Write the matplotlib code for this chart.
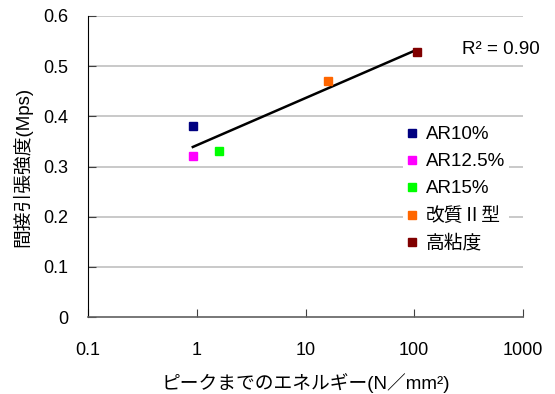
import matplotlib.pyplot as plt
import numpy as np

plt.rcParams["font.family"] = ["Liberation Sans", "Noto Sans CJK JP"]

# 試料ごとのピークまでのエネルギーと間接引張強度
labels = ["AR10%", "AR12.5%", "AR15%", "改質Ⅱ型", "高粘度"]
energy = [0.92, 0.92, 1.6, 16.0, 106.0]
strength = [0.38, 0.32, 0.33, 0.47, 0.528]
colors = ["#000080", "#ff00ff", "#00ff00", "#ff6600", "#800000"]

x_ticks = [0.1, 1, 10, 100, 1000]
x_tick_labels = ["0.1", "1", "10", "100", "1000"]
y_ticks = [0, 0.1, 0.2, 0.3, 0.4, 0.5, 0.6]
y_tick_labels = ["0", "0.1", "0.2", "0.3", "0.4", "0.5", "0.6"]

# 対数近似曲線
log_x = np.log10(energy)
slope, intercept = np.polyfit(log_x, strength, 1)
fit_y = slope * log_x + intercept
r2 = 1 - np.sum((np.array(strength) - fit_y) ** 2) / np.sum(
    (np.array(strength) - np.mean(strength)) ** 2
)
trend_x = np.logspace(np.log10(min(energy)), np.log10(max(energy)), 50)
trend_y = slope * np.log10(trend_x) + intercept

fig = plt.figure(figsize=(5.55, 3.94), dpi=100)
ax = fig.add_axes([88 / 555, 1 - 317 / 394, 435 / 555, 301 / 394])

ax.set_xscale("log")
ax.set_xlim(0.1, 1000)
ax.set_ylim(0, 0.6)

for y in y_ticks[1:]:
    ax.axhline(y, color="#c0c0c0", linewidth=1.2, zorder=0)

ax.plot(trend_x, trend_y, color="black", linewidth=1.8, zorder=2)

for x, y, c, lab in zip(energy, strength, colors, labels):
    ax.plot(x, y, marker="s", markersize=6, color=c, linestyle="none",
            label=lab, zorder=3)

ax.text(462 / 555, 1 - 50 / 394, f"R² = {r2:.2f}", transform=fig.transFigure,
        fontsize=13.5, va="center", ha="left")

ax.set_xticks(x_ticks)
ax.set_xticklabels(x_tick_labels)
ax.xaxis.set_minor_locator(plt.NullLocator())
ax.set_yticks(y_ticks)
ax.set_yticklabels(y_tick_labels)
ax.tick_params(axis="both", direction="in", length=6, labelsize=13,
               color="#404040")
ax.tick_params(axis="x", pad=18)
ax.tick_params(axis="y", pad=14)

ax.spines["top"].set_visible(False)
ax.spines["right"].set_visible(False)
ax.spines["left"].set_color("black")
ax.spines["bottom"].set_color("#606060")
ax.spines["bottom"].set_linewidth(1.2)

ax.set_xlabel("ピークまでのエネルギー(N／mm²)", fontsize=13.5, labelpad=10)
ax.set_ylabel("間接引張強度(Mps)", fontsize=13.5, labelpad=8)

leg = ax.legend(loc="upper left", bbox_to_anchor=(394 / 555, 1 - 113 / 394),
                bbox_transform=fig.transFigure, fontsize=13.5, frameon=True,
                edgecolor="none", facecolor="white", framealpha=1,
                fancybox=False, handlelength=0.5, handletextpad=0.5,
                labelspacing=0.53, borderpad=0.2, markerscale=0.9)

fig.savefig("out.png", dpi=100)
